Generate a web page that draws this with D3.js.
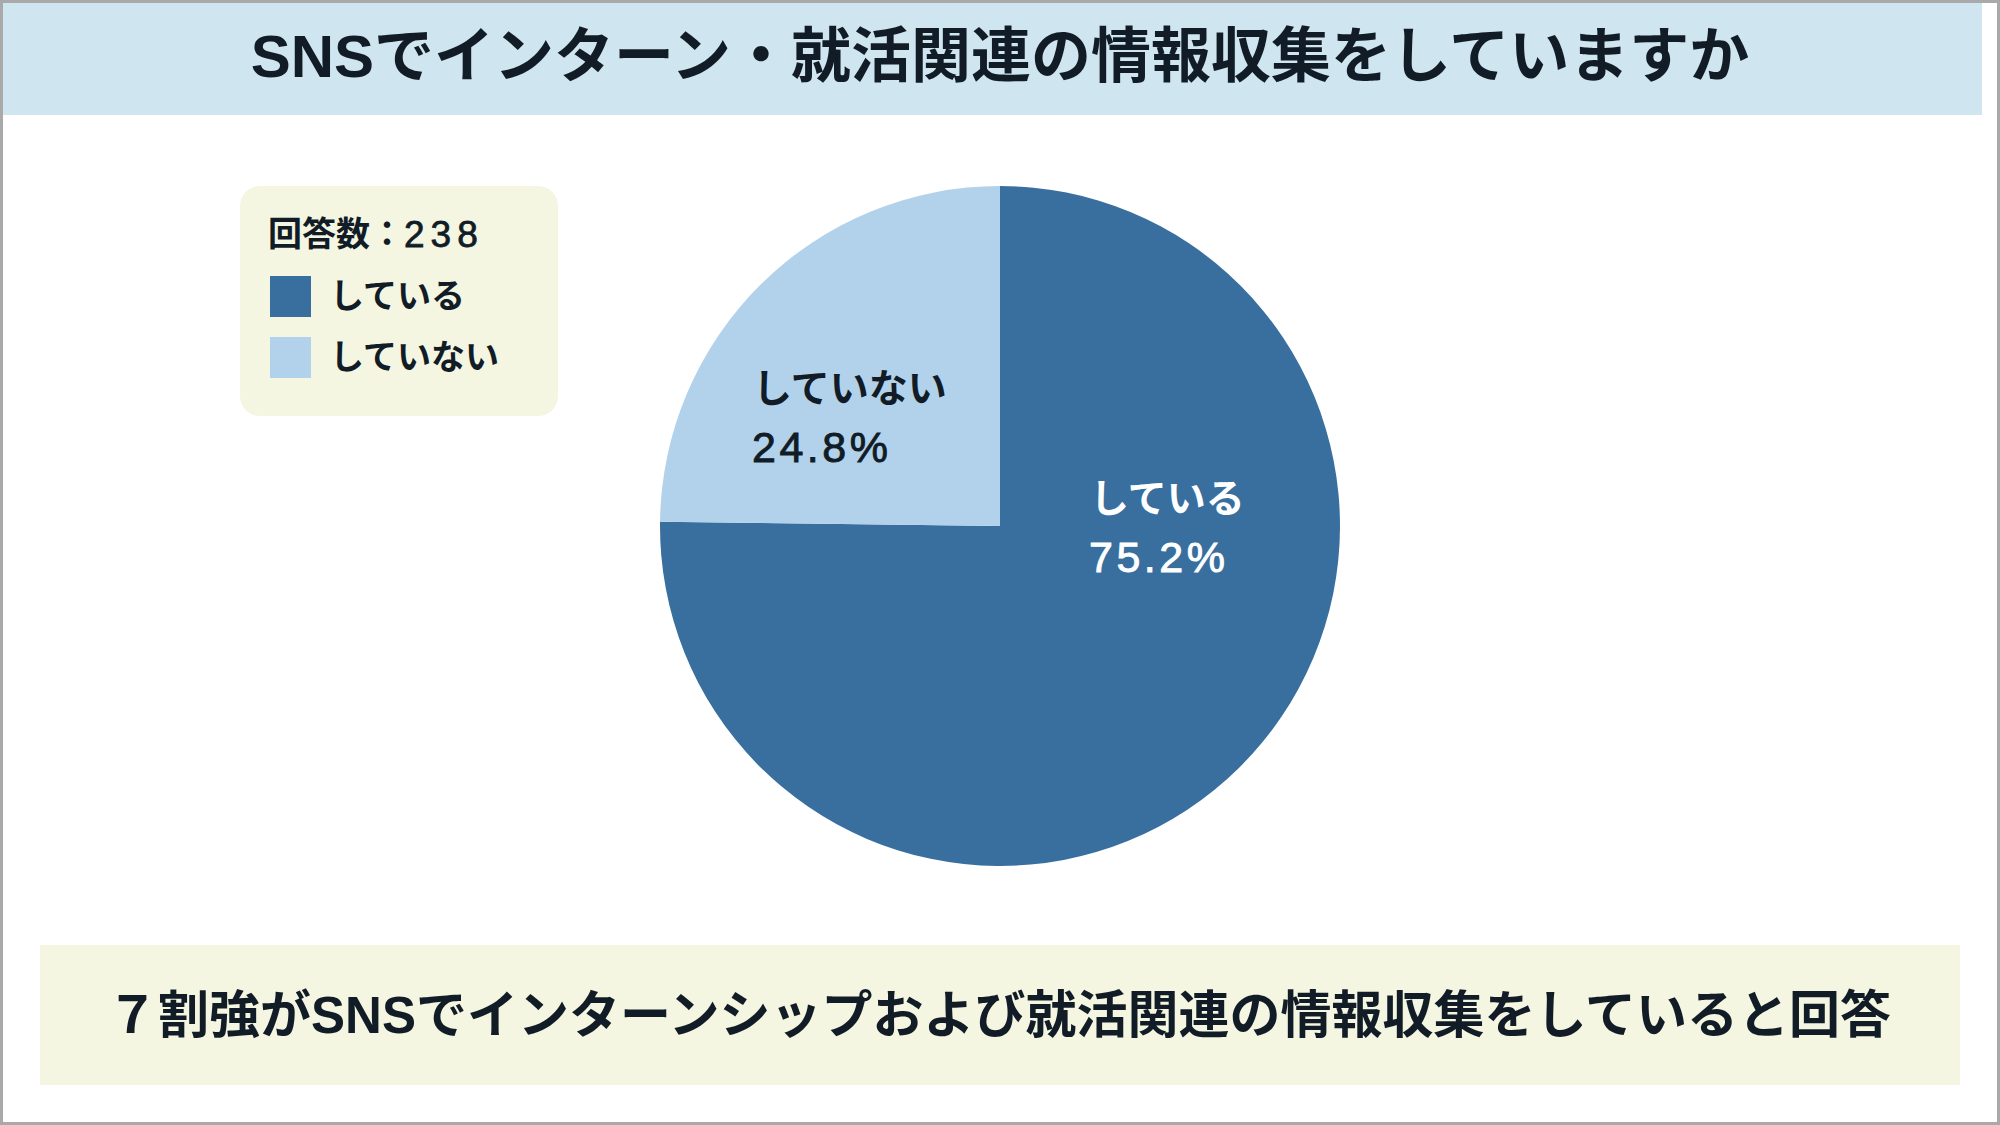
<!DOCTYPE html>
<html>
<head>
<meta charset="utf-8">
<script src="https://cdn.jsdelivr.net/npm/d3@7"></script>
<style>
  html, body { margin: 0; padding: 0; background: #ffffff; }
  svg { display: block; }
  text { font-family: "Liberation Sans", "Noto Sans CJK JP", "Noto Sans", sans-serif; }
</style>
</head>
<body>
<svg id="chart" width="2000" height="1125"></svg>
<script>
// ---- data ----
const titleText = "SNSでインターン・就活関連の情報収集をしていますか";
const summaryText = "７割強がSNSでインターンシップおよび就活関連の情報収集をしていると回答";
const respondentLabel = "回答数：";
const respondents = 238;
const categories = ["している", "していない"];
const values = [75.2, 24.8];

// ---- styles / layout ----
const sliceColors = ["#386f9f", "#b2d2ec"];
const labelColors = ["#ffffff", "#111c26"];
const textColor = "#111c26";
const W = 2000, H = 1125;
const cx = 1000, cy = 526, R = 340;
// label anchor offsets (left edge, first-line centre) relative to pie centre
const labelOffsets = [[90, -28], [-247, -138]];
const lineGap = 59;

const svg = d3.select("#chart");

// background + frame
svg.append("rect").attr("x", 1.5).attr("y", 1.5).attr("width", W - 3).attr("height", H - 3)
  .attr("fill", "#ffffff").attr("stroke", "#a9a9a9").attr("stroke-width", 3);

// title band
svg.append("rect").attr("x", 3).attr("y", 3).attr("width", 1979).attr("height", 112)
  .attr("fill", "#cfe6f1");
svg.append("text").attr("x", 1000).attr("y", 56)
  .attr("text-anchor", "middle").attr("dominant-baseline", "central")
  .attr("font-size", 60).attr("font-weight", 700).attr("fill", textColor)
  .text(titleText);

// pie
const pie = d3.pie().sort(null).value(d => d);
const arc = d3.arc().innerRadius(0).outerRadius(R);
const arcs = pie(values);
const g = svg.append("g").attr("transform", `translate(${cx},${cy})`);
g.selectAll("path").data(arcs).join("path")
  .attr("d", arc)
  .attr("fill", (d, i) => sliceColors[i]);

const fmt = d3.format(".1f");
const lab = g.selectAll("g.lab").data(arcs).join("g").attr("class", "lab")
  .attr("transform", (d, i) => `translate(${labelOffsets[i][0]},${labelOffsets[i][1]})`);
lab.append("text").attr("x", 0).attr("y", 0)
  .attr("dominant-baseline", "central")
  .attr("font-size", 39).attr("font-weight", 700)
  .attr("fill", (d, i) => labelColors[i])
  .text((d, i) => categories[i]);
lab.append("text").attr("x", -1).attr("y", lineGap)
  .attr("dominant-baseline", "central")
  .attr("font-size", 43).attr("font-weight", 400)
  .attr("letter-spacing", 3.5)
  .attr("fill", (d, i) => labelColors[i])
  .attr("stroke", (d, i) => labelColors[i]).attr("stroke-width", 0.9)
  .text(d => fmt(d.data) + "%");

// legend
const lg = svg.append("g").attr("transform", "translate(240,186)");
lg.append("rect").attr("width", 318).attr("height", 230).attr("rx", 20).attr("ry", 20)
  .attr("fill", "#f4f6e1");
const head = lg.append("text").attr("x", 28).attr("y", 48)
  .attr("dominant-baseline", "central")
  .attr("font-size", 34).attr("font-weight", 700).attr("fill", textColor);
head.append("tspan").text(respondentLabel);
head.append("tspan").attr("font-size", 37).attr("font-weight", 400)
  .attr("letter-spacing", 6)
  .attr("stroke", textColor).attr("stroke-width", 0.8)
  .text(respondents);
const items = lg.selectAll("g.item").data(categories).join("g").attr("class", "item")
  .attr("transform", (d, i) => `translate(30,${90 + i * 61})`);
items.append("rect").attr("width", 41).attr("height", 41)
  .attr("fill", (d, i) => sliceColors[i]);
items.append("text").attr("x", 60).attr("y", 20)
  .attr("dominant-baseline", "central")
  .attr("font-size", 34).attr("font-weight", 700).attr("fill", textColor)
  .text(d => d);

// summary box
svg.append("rect").attr("x", 40).attr("y", 945).attr("width", 1920).attr("height", 140)
  .attr("fill", "#f4f6e1");
svg.append("text").attr("x", 999).attr("y", 1015)
  .attr("text-anchor", "middle").attr("dominant-baseline", "central")
  .attr("font-size", 51).attr("font-weight", 700).attr("fill", textColor)
  .text(summaryText);
</script>
</body>
</html>
